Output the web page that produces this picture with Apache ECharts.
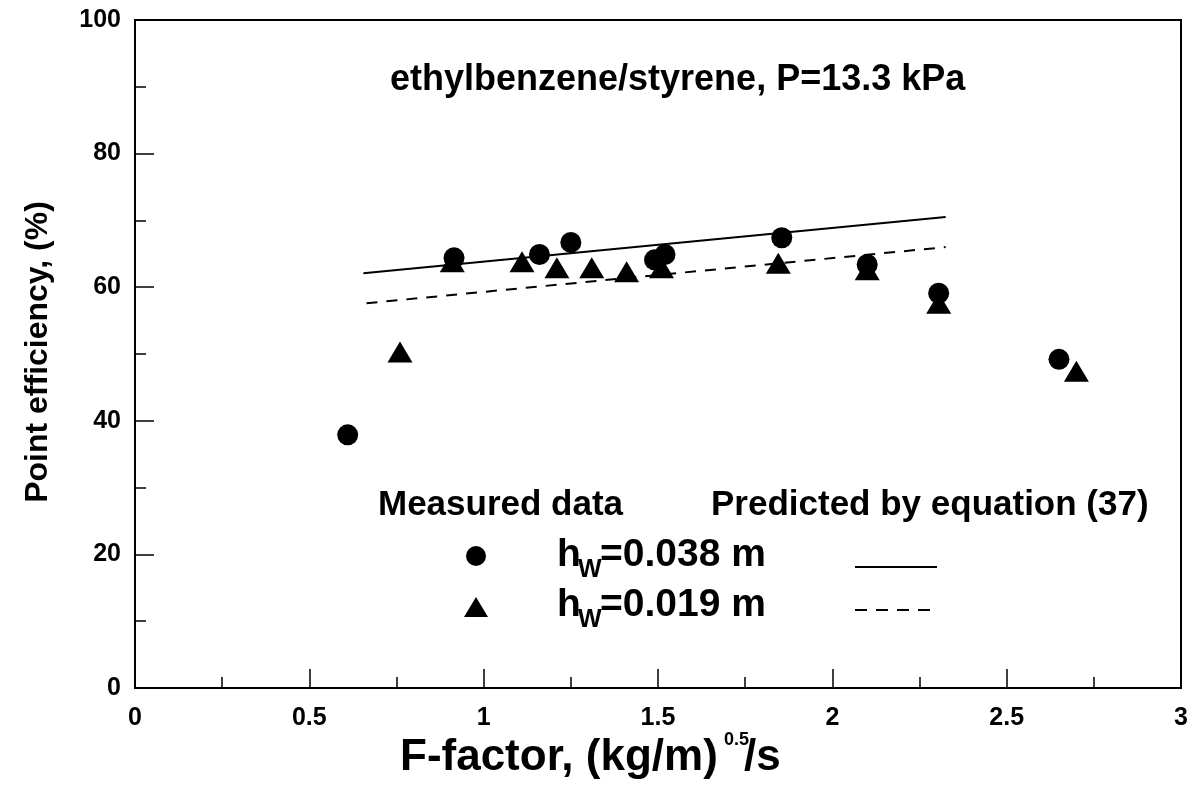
<!DOCTYPE html>
<html>
<head>
<meta charset="utf-8">
<script src="https://cdn.jsdelivr.net/npm/echarts@6/dist/echarts.min.js"></script>
<style>
    html, body { margin: 0; padding: 0; background: #fff; }
    #chart { width: 1195px; height: 787px; }
</style>
</head>
<body>
<div id="chart"></div>
<script>
// measured data, h_w = 0.038 m (circles)
let circleX = [0.61, 0.915, 1.16, 1.25, 1.49, 1.52, 1.855, 2.10, 2.305, 2.65];
let circleY = [37.9, 64.4, 64.9, 66.7, 64.1, 64.9, 67.4, 63.4, 59.1, 49.2];
// measured data, h_w = 0.019 m (triangles)
let triX = [0.76, 0.91, 1.11, 1.21, 1.31, 1.41, 1.51, 1.845, 2.10, 2.305, 2.70];
let triY = [50.3, 63.8, 63.8, 62.9, 62.9, 62.3, 62.9, 63.6, 62.6, 57.6, 47.4];
// predicted by equation (37)
let solidX = [0.655, 2.325];
let solidY = [62.1, 70.5];
let dashX = [0.664, 2.325];
let dashY = [57.6, 66.0];

let xTicks = [0, 0.5, 1, 1.5, 2, 2.5, 3];
let yTicks = [0, 20, 40, 60, 80, 100];

let zip = (xs, ys) => xs.map((x, i) => [x, ys[i]]);

let font = '"Liberation Sans", Arial, sans-serif';
let chart = echarts.init(document.getElementById('chart'));

let axisCommon = {
    axisLine: { onZero: false, lineStyle: { color: '#000', width: 2 } },
    axisTick: { inside: true, length: 19, lineStyle: { color: '#000', width: 1.5 } },
    minorTick: { show: true, splitNumber: 2, length: 11, lineStyle: { color: '#000', width: 1.5 } },
    splitLine: { show: false },
    axisLabel: { color: '#000', fontFamily: font, fontWeight: 'bold', fontSize: 25 }
};

let option = {
    animation: false,
    backgroundColor: '#fff',
    grid: {
        left: 135,
        right: 14,
        top: 20,
        bottom: 99,
        show: true,
        borderColor: '#000',
        borderWidth: 2
    },
    xAxis: Object.assign({}, axisCommon, {
        type: 'value',
        min: 0,
        max: 3,
        interval: 0.5,
        axisLabel: Object.assign({}, axisCommon.axisLabel, {
            margin: 18,
            formatter: v => xTicks.indexOf(v) >= 0 ? String(v) : ''
        })
    }),
    yAxis: Object.assign({}, axisCommon, {
        type: 'value',
        min: 0,
        max: 100,
        interval: 20,
        axisLabel: Object.assign({}, axisCommon.axisLabel, {
            margin: 14,
            formatter: v => yTicks.indexOf(v) >= 0 ? String(v) : ''
        })
    }),
    series: [
        {
            name: 'h_w=0.038 m',
            type: 'scatter',
            symbol: 'circle',
            symbolSize: 21,
            itemStyle: { color: '#000', opacity: 1 },
            data: zip(circleX, circleY),
            z: 4
        },
        {
            name: 'h_w=0.019 m',
            type: 'scatter',
            symbol: 'triangle',
            symbolSize: [25, 21],
            itemStyle: { color: '#000', opacity: 1 },
            data: zip(triX, triY),
            z: 3
        },
        {
            name: 'predicted 0.038',
            type: 'line',
            showSymbol: false,
            lineStyle: { color: '#000', width: 2 },
            data: zip(solidX, solidY)
        },
        {
            name: 'predicted 0.019',
            type: 'line',
            showSymbol: false,
            lineStyle: { color: '#000', width: 2, type: [11, 9] },
            data: zip(dashX, dashY)
        }
    ],
    graphic: [
        // title inside plot
        { type: 'text', left: 390, top: 62, style: { text: 'ethylbenzene/styrene, P=13.3 kPa', font: 'bold 36px ' + font, fill: '#000' } },
        // y axis name
        {
            type: 'text', x: 38, y: 352, rotation: Math.PI / 2,
            style: { text: 'Point efficiency, (%)', font: 'bold 32px ' + font, fill: '#000', align: 'center', verticalAlign: 'middle' }
        },
        // x axis name with superscript
        { type: 'text', left: 400, top: 736, style: { text: 'F-factor, (kg/m)', font: 'bold 44px ' + font, fill: '#000' } },
        { type: 'text', left: 724, top: 731, style: { text: '0.5', font: 'bold 18px ' + font, fill: '#000' } },
        { type: 'text', left: 744, top: 736, style: { text: '/s', font: 'bold 44px ' + font, fill: '#000' } },
        // legend block
        { type: 'text', left: 378, top: 488, style: { text: 'Measured data', font: 'bold 35px ' + font, fill: '#000' } },
        { type: 'text', left: 711, top: 488, style: { text: 'Predicted by equation (37)', font: 'bold 35px ' + font, fill: '#000' } },
        { type: 'circle', shape: { cx: 476, cy: 556, r: 10 }, style: { fill: '#000' } },
        { type: 'polygon', shape: { points: [[476, 597], [464, 617], [488, 617]] }, style: { fill: '#000' } },
        { type: 'text', left: 557, top: 536, style: { text: 'h', font: 'bold 39px ' + font, fill: '#000' } },
        { type: 'text', left: 578, top: 558, style: { text: 'W', font: 'bold 25px ' + font, fill: '#000' } },
        { type: 'text', left: 600, top: 536, style: { text: '=0.038 m', font: 'bold 39px ' + font, fill: '#000' } },
        { type: 'text', left: 557, top: 586, style: { text: 'h', font: 'bold 39px ' + font, fill: '#000' } },
        { type: 'text', left: 578, top: 608, style: { text: 'W', font: 'bold 25px ' + font, fill: '#000' } },
        { type: 'text', left: 600, top: 586, style: { text: '=0.019 m', font: 'bold 39px ' + font, fill: '#000' } },
        { type: 'line', shape: { x1: 855, y1: 567, x2: 937, y2: 567 }, style: { stroke: '#000', lineWidth: 2 } },
        { type: 'line', shape: { x1: 855, y1: 610, x2: 937, y2: 610 }, style: { stroke: '#000', lineWidth: 2, lineDash: [12, 9] } }
    ]
};

chart.setOption(option);
</script>
</body>
</html>
